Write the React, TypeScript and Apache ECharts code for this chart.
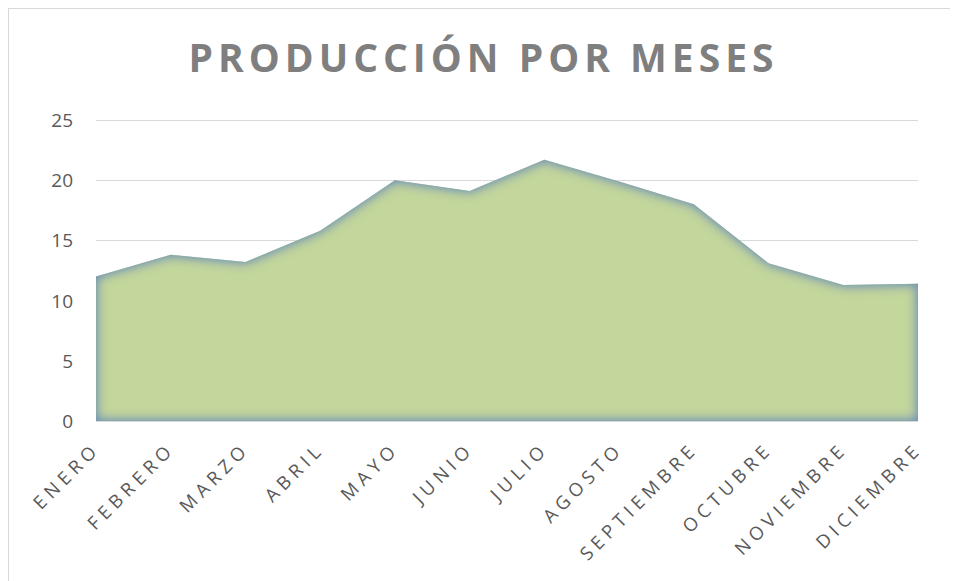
import React, { useEffect, useRef } from "react";
import * as echarts from "echarts";

const TITLE = "PRODUCCIÓN POR MESES";
const months = [
  "ENERO", "FEBRERO", "MARZO", "ABRIL", "MAYO", "JUNIO",
  "JULIO", "AGOSTO", "SEPTIEMBRE", "OCTUBRE", "NOVIEMBRE", "DICIEMBRE",
];
const production = [12.0, 13.8, 13.2, 15.8, 20.0, 19.1, 21.7, 19.9, 18.0, 13.1, 11.3, 11.4];
const yMin = 0;
const yMax = 25;
const yStep = 5;

const AREA_COLOR = "#c3d69b";

export default function App() {
  const ref = useRef<HTMLDivElement>(null);

  useEffect(() => {
    if (!ref.current) return;
    const chart = echarts.init(ref.current, null, { renderer: "svg" });

    const decorate = () => {
      const root = ref.current;
      if (!root) return;
      root.querySelectorAll("text").forEach((t) => {
        const s = (t.textContent || "").trim();
        if (s === TITLE) (t as any).style.letterSpacing = "5px";
        else if (months.includes(s)) (t as any).style.letterSpacing = "5px";
      });
      root.querySelectorAll("path").forEach((p) => {
        const f = (p.getAttribute("fill") || "").toLowerCase().replace(/\s/g, "");
        if (f.includes("c3d69b") || f.includes("195,214,155")) {
          p.setAttribute("filter", "url(#innerGlow)");
        }
      });
    };

    chart.setOption({
      animation: false,
      backgroundColor: "#ffffff",
      title: {
        text: TITLE,
        left: "center",
        top: 23,
        textStyle: {
          fontFamily: "Open Sans",
          fontWeight: "bold",
          fontSize: 39,
          color: "#7f7f7f",
        },
      },
      grid: { left: 87, right: 40, top: 111, bottom: 160, containLabel: false },
      xAxis: {
        type: "category",
        data: months,
        boundaryGap: false,
        axisLine: { show: false },
        axisTick: { show: false },
        axisLabel: {
          interval: 0,
          rotate: 45,
          margin: 24,
          color: "#595959",
          fontFamily: "Open Sans",
          fontSize: 18.5,
        },
        splitLine: { show: false },
      },
      yAxis: {
        type: "value",
        min: yMin,
        max: yMax,
        interval: yStep,
        axisLine: { show: false },
        axisTick: { show: false },
        axisLabel: {
          margin: 23,
          color: "#595959",
          fontFamily: "Open Sans",
          fontSize: 19,
        },
        splitLine: { show: true, lineStyle: { color: "#d9d9d9", width: 1 } },
      },
      series: [
        {
          type: "line",
          data: production,
          showSymbol: false,
          symbol: "none",
          lineStyle: { width: 0, opacity: 0 },
          areaStyle: { color: AREA_COLOR, opacity: 1 },
          emphasis: { disabled: true },
          silent: true,
        },
      ],
    });
    decorate();
    chart.on("finished", decorate);

    return () => {
      chart.dispose();
    };
  }, []);

  return (
    <div>
      <svg width="0" height="0" style={{ position: "absolute" }}>
        <defs>
          <filter id="innerGlow" x="-10%" y="-10%" width="120%" height="120%">
            <feFlood floodColor="#6f95b2" result="c" />
            <feComposite in="c" in2="SourceAlpha" operator="out" result="inv" />
            <feGaussianBlur in="inv" stdDeviation="6" result="blur" />
            <feComposite in="blur" in2="SourceAlpha" operator="in" result="glow" />
            <feMerge>
              <feMergeNode in="SourceGraphic" />
              <feMergeNode in="glow" />
              <feMergeNode in="glow" />
            </feMerge>
          </filter>
        </defs>
      </svg>
      <div
        style={{
          width: 950,
          height: 573,
          borderTop: "1px solid #d9d9d9",
          borderLeft: "1px solid #d9d9d9",
          boxSizing: "border-box",
          position: "relative",
          overflow: "hidden",
        }}
      >
        <div ref={ref} style={{ width: 949, height: 572 }} />
      </div>
    </div>
  );
}
